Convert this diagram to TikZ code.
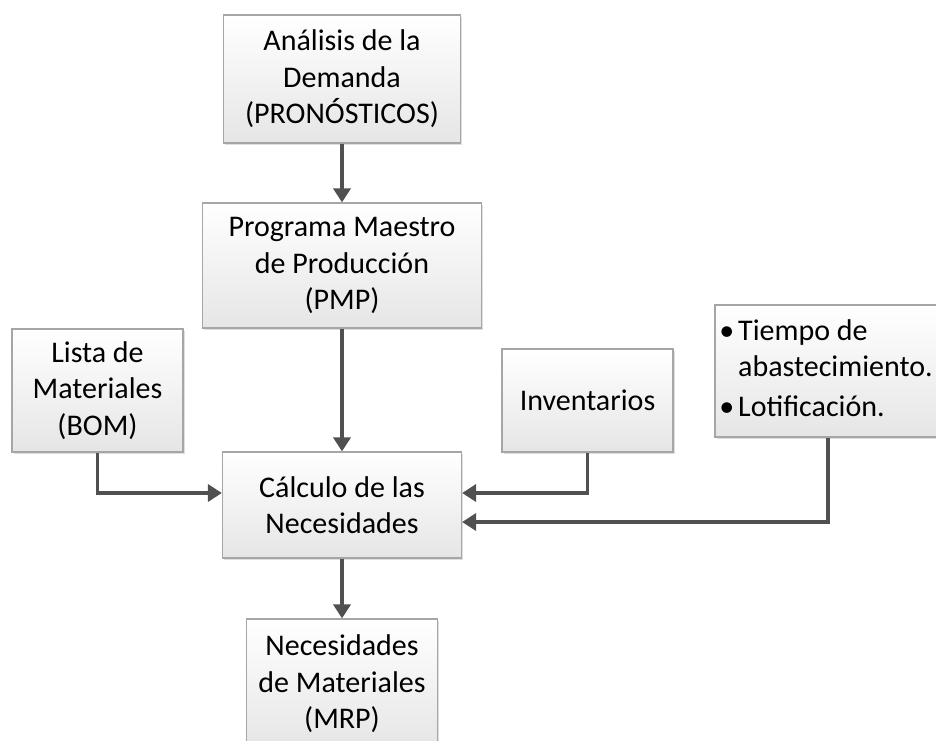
\documentclass[tikz,border=0pt]{standalone}
\usepackage{fontspec}
\setmainfont{Carlito}
\usetikzlibrary{arrows.meta,shadows}
\definecolor{boxline}{HTML}{A6A6A6}
\definecolor{arrowgray}{HTML}{505050}
\tikzstyle{caja} = [
  draw=boxline,
  line width=1.2pt,
  top color=white,
  bottom color=black!10,
  drop shadow={shadow xshift=1.5pt, shadow yshift=-1.5pt, opacity=0.25},
  text=black,
  align=center,
  inner sep=0pt,
  font=\fontsize{30}{36.5}\selectfont,
]
\tikzstyle{flecha} = [
  arrowgray,
  line width=3.5pt,
  -{Triangle[width=17pt,length=14pt]},
]

\begin{document}
\begin{tikzpicture}[x=1pt, y=-1pt]
      \clip (0,0) rectangle (936,740);

      % Boxes
      \node[caja, minimum width=237pt, minimum height=128pt] (demanda) at (342,79)
        {Análisis de la\\Demanda\\(PRONÓSTICOS)};
      \node[caja, minimum width=279pt, minimum height=125pt] (pmp) at (342,265.5)
        {Programa Maestro\\de Producción\\(PMP)};
      \node[caja, minimum width=171pt, minimum height=123pt] (bom) at (97.5,390.5)
        {Lista de\\Materiales\\(BOM)};
      \node[caja, minimum width=239pt, minimum height=106pt] (calculo) at (342,505)
        {Cálculo de las\\Necesidades};
      \node[caja, minimum width=171pt, minimum height=103pt] (inventarios) at (587.5,400.5)
        {Inventarios};
      \node[caja, minimum width=222pt, minimum height=132pt] (tiempo) at (826,371)
        {\begin{tabular}{@{}l@{\hspace{4pt}}l@{}}
           \textbullet & Tiempo de\\
                       & abastecimiento.\\[3pt]
           \textbullet & Lotificación.
         \end{tabular}};
      \node[caja, minimum width=191pt, minimum height=130pt] (mrp) at (342,684)
        {Necesidades\\de Materiales\\(MRP)};

      % Arrows
      \draw[flecha] (demanda) -- (pmp);
      \draw[flecha] (pmp) -- (calculo);
      \draw[flecha] (calculo) -- (mrp);
      \draw[flecha] (bom.south) |- ([yshift=12pt]calculo.west);
      \draw[flecha] (inventarios.south) |- ([yshift=12pt]calculo.east);
      \draw[flecha] ([xshift=2pt]tiempo.south) |- ([yshift=-17pt]calculo.east);
    \end{tikzpicture}
\end{document}
